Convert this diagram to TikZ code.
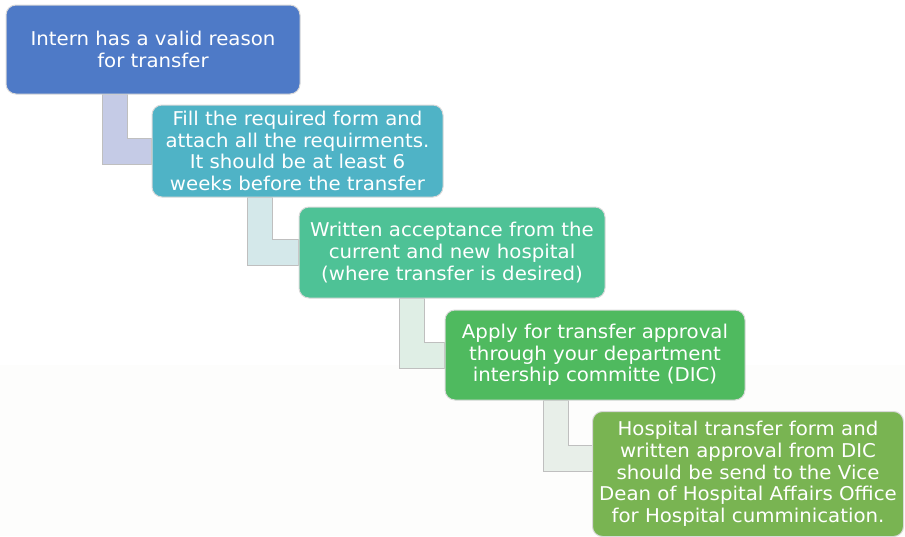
\documentclass[tikz,border=0pt]{standalone}
\usepackage{fontspec}
\setmainfont[FakeStretch=1.04]{DejaVu Sans}
\usetikzlibrary{calc,backgrounds}

\definecolor{stepA}{HTML}{4E7AC7}
\definecolor{stepB}{HTML}{4FB3C6}
\definecolor{stepC}{HTML}{4EC296}
\definecolor{stepD}{HTML}{4FBA5F}
\definecolor{stepE}{HTML}{79B452}
\definecolor{linkA}{HTML}{C5CBE6}
\definecolor{linkB}{HTML}{D4E8EA}
\definecolor{linkC}{HTML}{DFEEE5}
\definecolor{linkD}{HTML}{E8EFE9}
\definecolor{bgtint}{HTML}{FDFDFC}

\begin{document}
\begin{tikzpicture}[x=1pt,y=-1pt,
  box/.style={draw=black!15, line width=1pt, rounded corners=10pt, text=white,
    align=center, inner sep=0pt, font=\fontsize{19}{21.7}\selectfont},
  link/.style={draw=black!25, line width=0.8pt}]
  \useasboundingbox (0,0) rectangle (905,536);

  \node (intern) [box, fill=stepA, minimum width=294, minimum height=89] at (153,49.5)
    {Intern has a valid reason\\for transfer};
  \node (form) [box, fill=stepB, minimum width=291, minimum height=92] at (297.5,151)
    {Fill the required form and\\attach all the requirments.\\It should be at least 6\\weeks before the transfer};
  \node (accept) [box, fill=stepC, minimum width=306, minimum height=91] at (452,252.5)
    {Written acceptance from the\\current and new hospital\\(where transfer is desired)};
  \node (apply) [box, fill=stepD, minimum width=300, minimum height=90] at (595,355)
    {Apply for transfer approval\\through your department\\intership committe (DIC)};
  \node (send) [box, fill=stepE, minimum width=311, minimum height=125] at (748,474)
    {Hospital transfer form and\\written approval from DIC\\should be send to the Vice\\Dean of Hospital Affairs Office\\for Hospital cumminication.};

  \begin{scope}[on background layer]
    \fill[bgtint] (0,365) rectangle (905,536);
    % elbow bars between the steps
    \foreach \a/\b/\c/\s in {intern/form/linkA/0, form/accept/linkB/0,
                             accept/apply/linkC/0, apply/send/linkD/-16}
      \draw[link, fill=\c] ($(\a.south west)!0.33!(\a.south east)$)
        |- ($(\b.west)+(0,\s+13)$) -- ($(\b.west)+(0,\s-13)$)
        -| ($(\a.south west)!0.33!(\a.south east)+(25,0)$) -- cycle;
  \end{scope}
\end{tikzpicture}
\end{document}
